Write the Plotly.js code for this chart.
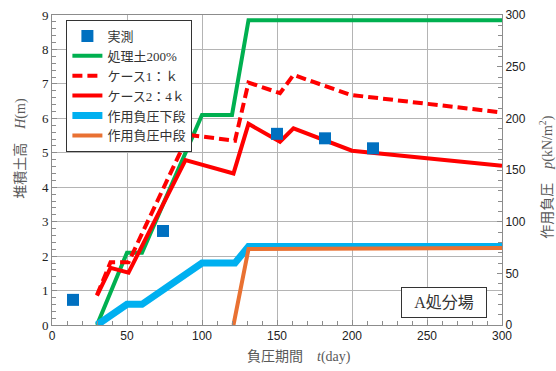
<!DOCTYPE html>
<html>
<head>
<meta charset="utf-8">
<script src="https://cdn.plot.ly/plotly-3.0.1.min.js"></script>
<style>
  html, body { margin: 0; padding: 0; background: #fff; }
  #chart { width: 556px; height: 371px; }
</style>
</head>
<body>
<div id="chart"></div>
<script>
// 実測 (堆積土高, m)
const measDays = [14, 74, 150, 182, 214];
const measH = [0.73, 2.73, 5.55, 5.42, 5.13];

// 処理土200% (m)
const soilDays = [30, 50, 60, 100, 120, 131, 300];
const soilH = [0, 2.1, 2.1, 6.1, 6.1, 8.85, 8.85];

// ケース1：k (m)
const case1Days = [30, 39, 51, 91, 122, 131, 152, 161, 199, 300];
const case1H = [0.87, 1.82, 1.82, 5.52, 5.35, 7.04, 6.73, 7.26, 6.68, 6.17];

// ケース2：4k (m)
const case2Days = [30, 39, 51, 89, 121, 131, 152, 161, 200, 300];
const case2H = [0.85, 1.66, 1.52, 4.79, 4.4, 5.84, 5.32, 5.71, 5.06, 4.62];

// 作用負圧下段 (kN/m2)
const lowerDays = [30, 50, 60, 100, 122, 131, 300];
const lowerP = [0, 20, 20, 60, 60, 76, 76];

// 作用負圧中段 (kN/m2)
const middleDays = [121, 131, 300];
const middleP = [0, 73.5, 74.5];

const JP = '"Liberation Serif", "Noto Sans CJK JP", serif';
const SANS = '"Liberation Sans", Arial, sans-serif';

const traces = [
  { x: soilDays, y: soilH, name: '処理土200%', mode: 'lines', legendrank: 2,
    line: { color: '#00B050', width: 4 } },
  { x: case1Days, y: case1H, name: 'ケース1：ｋ', mode: 'lines', legendrank: 3,
    line: { color: '#FF0000', width: 4, dash: '10px,5px' } },
  { x: case2Days, y: case2H, name: 'ケース2：4ｋ', mode: 'lines', legendrank: 4,
    line: { color: '#FF0000', width: 4 } },
  { x: measDays, y: measH, name: '実測', mode: 'markers', legendrank: 1,
    marker: { symbol: 'square', size: 12, color: '#0070C0' } },
  { x: lowerDays, y: lowerP, name: '作用負圧下段', mode: 'lines', yaxis: 'y2', legendrank: 5,
    line: { color: '#00B0F0', width: 7 } },
  { x: middleDays, y: middleP, name: '作用負圧中段', mode: 'lines', yaxis: 'y2', legendrank: 6,
    line: { color: '#E97132', width: 4 } }
];

const gridColor = '#B4B4B4';
const axisColor = '#8C8C8C';

const layout = {
  width: 556, height: 371,
  margin: { l: 52, r: 54, t: 15, b: 46 },
  paper_bgcolor: '#fff', plot_bgcolor: '#fff',
  showlegend: true,
  legend: {
    x: 0.032, y: 0.984, xanchor: 'left', yanchor: 'top',
    bgcolor: '#fff', bordercolor: '#333', borderwidth: 1,
    font: { family: JP, size: 13, color: '#333' },
    itemwidth: 30, traceorder: 'normal'
  },
  xaxis: {
    range: [0, 300], dtick: 50, tick0: 0,
    showgrid: true, gridcolor: gridColor, gridwidth: 1,
    showline: true, linecolor: axisColor, linewidth: 1, mirror: true,
    ticks: 'inside', ticklen: 5, tickcolor: axisColor,
    minor: { dtick: 10, ticks: 'inside', ticklen: 4, tickcolor: axisColor, showgrid: false },
    tickfont: { family: SANS, size: 12, color: '#222' },
    zeroline: false, fixedrange: true
  },
  yaxis: {
    range: [0, 9], dtick: 1, tick0: 0,
    showgrid: true, gridcolor: gridColor, gridwidth: 1,
    showline: true, linecolor: axisColor, linewidth: 1,
    ticks: 'inside', ticklen: 5, tickcolor: axisColor,
    minor: { dtick: 0.2, ticks: 'inside', ticklen: 4, tickcolor: axisColor, showgrid: false },
    tickfont: { family: '"Liberation Serif", serif', size: 13, color: '#222' },
    zeroline: false, fixedrange: true
  },
  yaxis2: {
    range: [0, 300], dtick: 50, tick0: 0,
    overlaying: 'y', side: 'right',
    showgrid: false,
    showline: true, linecolor: axisColor, linewidth: 1,
    ticks: 'inside', ticklen: 5, tickcolor: axisColor,
    minor: { dtick: 10, ticks: 'inside', ticklen: 4, tickcolor: axisColor, showgrid: false },
    tickfont: { family: SANS, size: 12, color: '#222' },
    zeroline: false, fixedrange: true
  },
  annotations: [
    { text: '負圧期間　<i>t</i>(day)', xref: 'paper', yref: 'paper',
      x: 0.548, y: -0.103, xanchor: 'center', yanchor: 'middle', showarrow: false,
      font: { family: JP, size: 14, color: '#595959' } },
    { text: '堆積土高　<i>H</i>(m)', xref: 'paper', yref: 'paper', textangle: -90,
      x: -0.07, y: 0.57, xanchor: 'center', yanchor: 'middle', showarrow: false,
      font: { family: JP, size: 14, color: '#595959' } },
    { text: '作用負圧　<i>p</i>(kN/m<sup>2</sup>)', xref: 'paper', yref: 'paper', textangle: -90,
      x: 1.1, y: 0.475, xanchor: 'center', yanchor: 'middle', showarrow: false,
      font: { family: JP, size: 14, color: '#595959' } },
    { text: 'A処分場', xref: 'paper', yref: 'paper',
      x: 0.871, y: 0.072, xanchor: 'center', yanchor: 'middle', showarrow: false,
      bgcolor: '#fff', bordercolor: '#333', borderwidth: 1, borderpad: 4,
      width: 76, height: 21,
      font: { family: JP, size: 16, color: '#333' } }
  ]
};

Plotly.newPlot('chart', traces, layout, { displayModeBar: false, staticPlot: true });
</script>
</body>
</html>
